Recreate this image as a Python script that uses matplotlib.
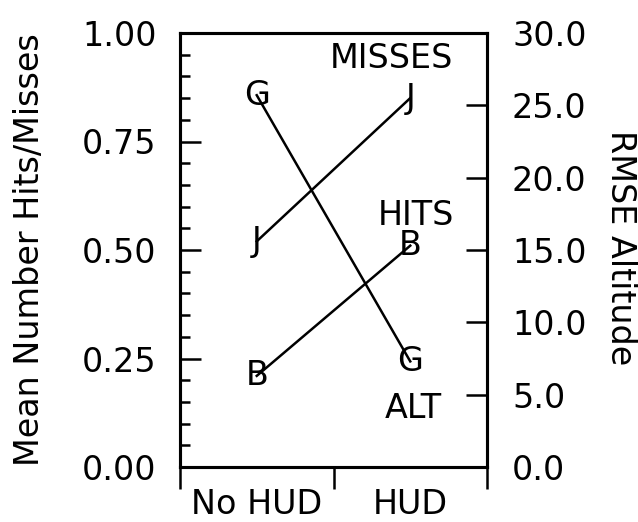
import matplotlib
matplotlib.use("Agg")
import matplotlib.pyplot as plt

categories = ["No HUD", "HUD"]
misses = [0.52, 0.85]
hits = [0.21, 0.51]
alt_rmse = [25.7, 7.3]

left_ticks = [0.00, 0.25, 0.50, 0.75, 1.00]
right_ticks = [0.0, 5.0, 10.0, 15.0, 20.0, 25.0, 30.0]

plt.rcParams['font.family'] = ['DejaVu Sans']
FS = 24

fig = plt.figure(figsize=(6.38, 5.22), dpi=100)
ax = fig.add_axes([180/638, 55/522, 307/638, 434/522])
ax2 = ax.twinx()

x = [1, 2]
ax.set_xlim(0.5, 2.5)
ax.set_ylim(0, 1)
ax2.set_ylim(0, 30)

lw = 1.8
ax.plot(x, misses, color='black', lw=lw)
ax.plot(x, hits, color='black', lw=lw)
ax2.plot(x, alt_rmse, color='black', lw=lw)

for xi, v in zip(x, misses):
    ax.text(xi, v, 'J', ha='center', va='center', fontsize=FS)
for xi, v in zip(x, hits):
    ax.text(xi, v, 'B', ha='center', va='center', fontsize=FS)
for xi, v in zip(x, alt_rmse):
    ax2.text(xi, v, 'G', ha='center', va='center', fontsize=FS)

ax.text(1.88, 0.942, 'MISSES', ha='center', va='center', fontsize=FS)
ax.text(2.04, 0.58, 'HITS', ha='center', va='center', fontsize=FS)
ax.text(2.02, 0.134, 'ALT', ha='center', va='center', fontsize=FS)

# left axis
ax.set_yticks(left_ticks)
ax.set_yticklabels([f"{t:.2f}" for t in left_ticks], fontsize=FS)
ax.set_yticks([i * 0.05 for i in range(21)], minor=True)
ax.tick_params(axis='y', which='major', direction='in', length=15, width=1.8, pad=17, right=False)
ax.tick_params(axis='y', which='minor', direction='in', length=7, width=1.8, right=False)

# bottom axis
ax.set_xticks([0.5, 1.5, 2.5])
ax.set_xticklabels(['', '', ''])
ax.set_xticks(x, minor=True)
ax.set_xticklabels(categories, minor=True, fontsize=FS)
ax.tick_params(axis='x', which='major', direction='out', length=16, width=1.8, top=False)
ax.tick_params(axis='x', which='minor', length=0, pad=15, top=False)

# right axis
ax2.set_yticks(right_ticks)
ax2.set_yticklabels([f"{t:.1f}" for t in right_ticks], fontsize=FS)
ax2.tick_params(axis='y', which='major', direction='in', length=15, width=1.8, pad=18)

for a in (ax, ax2):
    for s in a.spines.values():
        s.set_linewidth(2.2)

ax.set_ylabel('Mean Number Hits/Misses', fontsize=FS)
ax.yaxis.set_label_coords((30 - 180) / 307, 0.5)
ax.yaxis.label.set_va('center')

ax2.set_ylabel('RMSE Altitude', fontsize=FS, rotation=270)
ax2.yaxis.set_label_coords((621 - 180) / 307, 0.506)
ax2.yaxis.label.set_va('center')
ax2.yaxis.label.set_ha('center')

fig.savefig('out.png', dpi=100)
